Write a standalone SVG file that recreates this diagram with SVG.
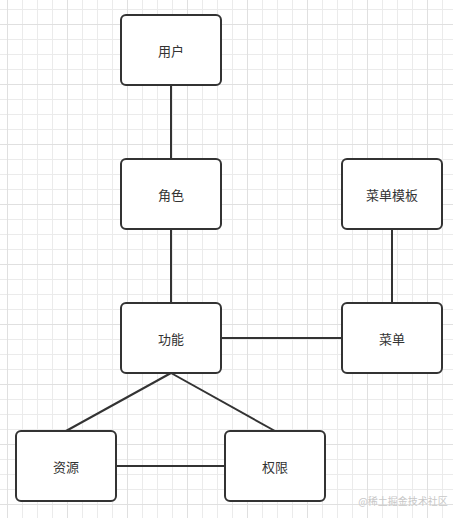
<svg xmlns="http://www.w3.org/2000/svg" width="453" height="518" viewBox="0 0 453 518">
<defs>
<pattern id="minor" x="7" y="9" width="15" height="15" patternUnits="userSpaceOnUse">
<path d="M0.5 0V15M0 0.5H15" fill="none" stroke="#ebebeb" stroke-width="1"/>
</pattern>
<pattern id="major" x="7" y="24" width="60" height="60" patternUnits="userSpaceOnUse">
<path d="M0.5 0V60M0 0.5H60" fill="none" stroke="#e0e0e0" stroke-width="1"/>
</pattern>
<style>
.box{fill:#fff;stroke:#333;stroke-width:2}
.lbl{font-family:"Noto Sans CJK SC","Noto Sans",sans-serif;font-size:13px;fill:#333;text-anchor:middle;dominant-baseline:central}
.con{stroke:#333;stroke-width:2;fill:none}
</style>
</defs>
<rect width="453" height="518" fill="#fff"/>
<rect width="453" height="518" fill="url(#minor)"/>
<rect width="453" height="518" fill="url(#major)"/>
<g id="connectors">
<path class="con" d="M171 85V159"/>
<path class="con" d="M171 229V303"/>
<path class="con" d="M392 229V303"/>
<path class="con" d="M221 338H342"/>
<path class="con" d="M171 373L66 431"/>
<path class="con" d="M171 373L275 431"/>
<path class="con" d="M116 466H225"/>
</g>
<g id="user"><rect class="box" x="121" y="15" width="100" height="70" rx="5"/><text class="lbl" x="171" y="50">用户</text></g>
<g id="role"><rect class="box" x="121" y="159" width="100" height="70" rx="5"/><text class="lbl" x="171" y="194">角色</text></g>
<g id="menuTemplate"><rect class="box" x="342" y="159" width="100" height="70" rx="5"/><text class="lbl" x="392" y="194">菜单模板</text></g>
<g id="function"><rect class="box" x="121" y="303" width="100" height="70" rx="5"/><text class="lbl" x="171" y="338">功能</text></g>
<g id="menu"><rect class="box" x="342" y="303" width="100" height="70" rx="5"/><text class="lbl" x="392" y="338">菜单</text></g>
<g id="resource"><rect class="box" x="16" y="431" width="100" height="70" rx="5"/><text class="lbl" x="66" y="466">资源</text></g>
<g id="permission"><rect class="box" x="225" y="431" width="100" height="70" rx="5"/><text class="lbl" x="275" y="466">权限</text></g>
<text x="403" y="500" font-family="Noto Sans CJK SC,sans-serif" font-size="10" fill="#c8c8c8" text-anchor="middle" dominant-baseline="central">@稀土掘金技术社区</text>
</svg>
